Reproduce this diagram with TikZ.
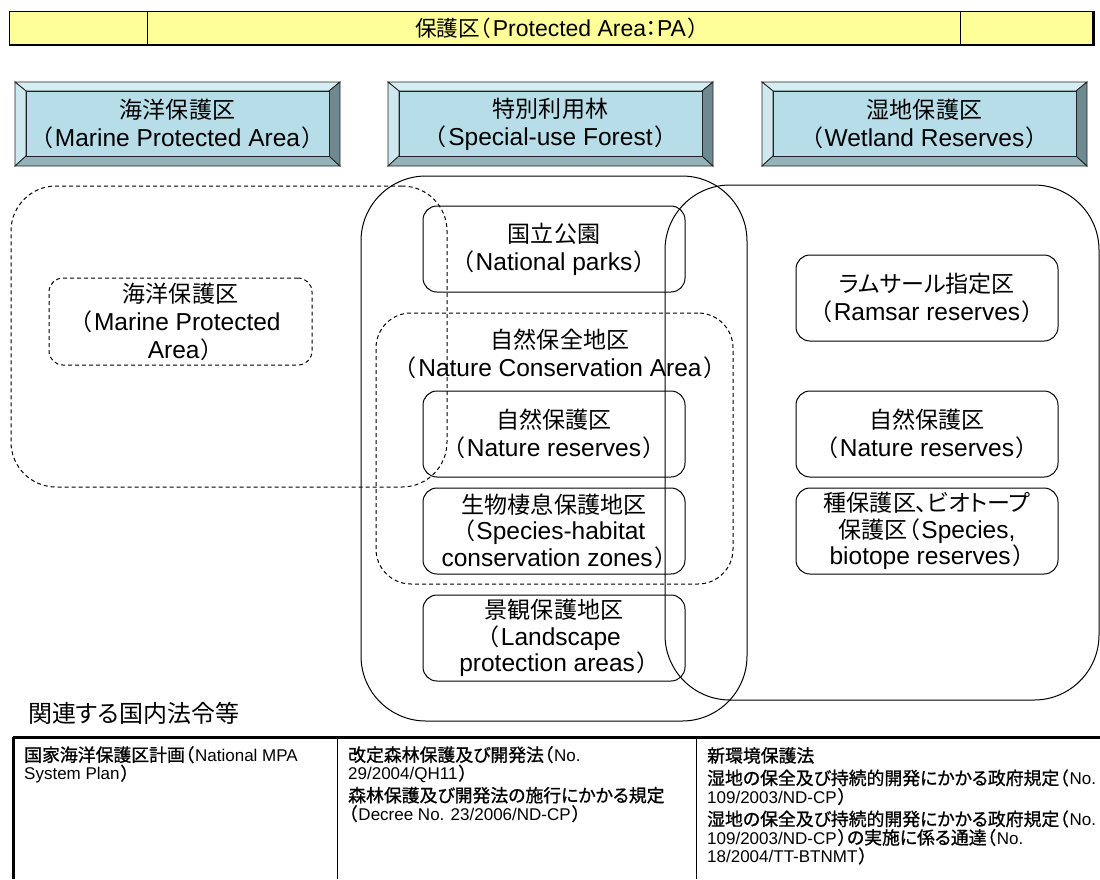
\documentclass[tikz,border=0pt]{standalone}
\usepackage{fontspec}
\setmainfont{Liberation Sans}
\newfontfamily\jp{Noto Sans CJK JP}[Scale=0.94,RawFeature=+palt]
\newfontfamily\jpb{Noto Sans CJK JP}[Scale=1.05,RawFeature=+palt,FakeBold=1]
\newcommand\LPar{{\jp （}\hspace{0.09em}}
\newcommand\RPar{\hspace{0.09em}{\jp ）}}
\newcommand\LParB{{\jpb （}\hspace{0.08em}}
\newcommand\RParB{\hspace{0.08em}{\jpb ）}}
\definecolor{barfill}{HTML}{FFFF99}
\definecolor{bvface}{HTML}{B7DEE8}
\definecolor{bvtop}{HTML}{D6EEF3}
\definecolor{bvleft}{HTML}{CDE8EE}
\definecolor{bvbot}{HTML}{94B2B9}
\definecolor{bvright}{HTML}{6E8A90}
\definecolor{bvline}{HTML}{222222}
\newcommand\bevelbox[4]{%
  \path[draw=bvline,line width=0.8pt,fill=bvtop] (#1,#2) -- (#3,#2) -- ({#3-11},{#2+9}) -- ({#1+11},{#2+9}) -- cycle;
  \path[draw=bvline,line width=0.8pt,fill=bvleft] (#1,#2) -- ({#1+11},{#2+9}) -- ({#1+11},{#4-10}) -- (#1,#4) -- cycle;
  \path[draw=bvline,line width=0.8pt,fill=bvbot] (#1,#4) -- ({#1+11},{#4-10}) -- ({#3-11},{#4-10}) -- (#3,#4) -- cycle;
  \path[draw=bvline,line width=0.8pt,fill=bvright] (#3,#2) -- (#3,#4) -- ({#3-11},{#4-10}) -- ({#3-11},{#2+9}) -- cycle;
  \path[draw=bvline,line width=0.8pt,fill=bvface] ({#1+11},{#2+9}) rectangle ({#3-11},{#4-10});
}
\begin{document}
\begin{tikzpicture}[x=1pt,y=-1pt,
  txt/.style={align=center,inner sep=0pt,font=\fontsize{24.5}{28}\selectfont},
  sbox/.style={txt,draw,line width=1pt,rounded corners=14pt,minimum width=262pt,minimum height=86pt},
  dbox/.style={sbox,dash pattern=on 4pt off 3pt},
  region/.style={draw,line width=1pt,inner sep=0pt},
  dregion/.style={region,dash pattern=on 4pt off 3pt},
  celltxt/.style={anchor=north west,align=left,inner sep=0pt,font=\fontsize{17}{18.5}\selectfont}
]
\useasboundingbox (0,0) rectangle (1100,879);

% top bar
\node[draw,line width=1pt,fill=barfill,minimum width=1084pt,minimum height=33pt,inner sep=0pt] (bar) at (551,28) {};
\draw[line width=2.5pt] (bar.north east) -- (bar.south east) -- (bar.south west);
\draw[line width=1pt] (147,11.5) -- (147,44.5);
\draw[line width=1pt] (960,11.5) -- (960,44.5);
\node[inner sep=0pt,font=\fontsize{23}{26}\selectfont] (bartxt) at (557,28) {{\jp 保護区}\LPar Protected Area{\jp ：}PA\RPar};

% bevel headers
\bevelbox{15}{82}{340}{166}
\bevelbox{388}{82}{713}{166}
\bevelbox{762}{82}{1087}{166}
\node[txt] (h1) at (177.5,124) {{\jp 海洋保護区}\\\LPar Marine Protected Area\RPar};
\node[txt] (h2) at (550.5,124) {{\jp 特別利用林}\\\LPar Special-use Forest\RPar};
\node[txt] (h3) at (924.5,124) {{\jp 湿地保護区}\\\LPar Wetland Reserves\RPar};

% large regions
\node[dregion,rounded corners=45pt,minimum width=436pt,minimum height=301pt] (marine) at (229,336.5) {};
\node[region,rounded corners=65pt,minimum width=386pt,minimum height=545pt] (forest) at (554,448.5) {};
\node[region,rounded corners=65pt,minimum width=434pt,minimum height=515pt] (wetland) at (882,442.5) {};
\node[dregion,rounded corners=35pt,minimum width=357pt,minimum height=271pt] (nca) at (554.5,448.5) {};

% marine
\node[dbox,minimum width=263pt,minimum height=87pt] (mpa) at (180.5,321.5) {{\jp 海洋保護区}\\\LPar Marine Protected\\Area\RPar};

% forest column
\node[sbox] (np) at (554,249) {{\jp 国立公園}\\\LPar National parks\RPar};
\node[txt] (ncatxt) at (560,354) {{\jp 自然保全地区}\\\LPar Nature Conservation Area\RPar};
\node[sbox] (nr1) at (554,434) {{\jp 自然保護区}\\\LPar Nature reserves\RPar};
\node[sbox,font=\fontsize{24.5}{26.5}\selectfont] (sh) at (554,531) {{\jp 生物棲息保護地区}\\\LPar Species-habitat\\conservation zones\RPar};
\node[sbox,font=\fontsize{24.5}{26.5}\selectfont] (lp) at (554,638) {{\jp 景観保護地区}\\\LPar Landscape\\protection areas\RPar};

% wetland column
\node[sbox] (ram) at (927,298) {{\jp ラムサール指定区}\\\LPar Ramsar reserves\RPar};
\node[sbox] (nr2) at (927,434) {{\jp 自然保護区}\\\LPar Nature reserves\RPar};
\node[sbox,font=\fontsize{24.5}{26.5}\selectfont] (sb) at (927,531) {{\jp 種保護区、ビオトープ}\\{\jp 保護区}\LPar Species,\\biotope reserves\RPar};

% legal label
\node[anchor=west,inner sep=0pt,font=\fontsize{25.5}{28}\selectfont] (lawlbl) at (28,713) {{\jp 関連する国内法令等}};

% table
\draw[line width=3pt] (13,737) -- (1101,737);
\draw[line width=3pt] (13,737) -- (13,879);
\draw[line width=1pt] (337,737) -- (337,879);
\draw[line width=1pt] (696,737) -- (696,879);

\node[celltxt] (c1) at (24,746) {{\jpb 国家海洋保護区計画}\LParB National MPA\\System Plan\RParB};
\node[celltxt] (c2) at (348,746) {{\jpb 改定森林保護及び開発法}\LParB No.\\29/2004/QH11\RParB\\[3.5pt]{\jpb 森林保護及び開発法の施行にかかる規定}\\\LParB Decree No. 23/2006/ND-CP\RParB};
\node[celltxt] (c3) at (707,747) {{\jpb 新環境保護法}\\[4pt]{\jpb 湿地の保全及び持続的開発にかかる政府規定}\LParB No.\\109/2003/ND-CP\RParB\\[4pt]{\jpb 湿地の保全及び持続的開発にかかる政府規定}\LParB No.\\109/2003/ND-CP\RParB{\jpb の実施に係る通達}\LParB No.\\18/2004/TT-BTNMT\RParB};
\end{tikzpicture}
\end{document}
